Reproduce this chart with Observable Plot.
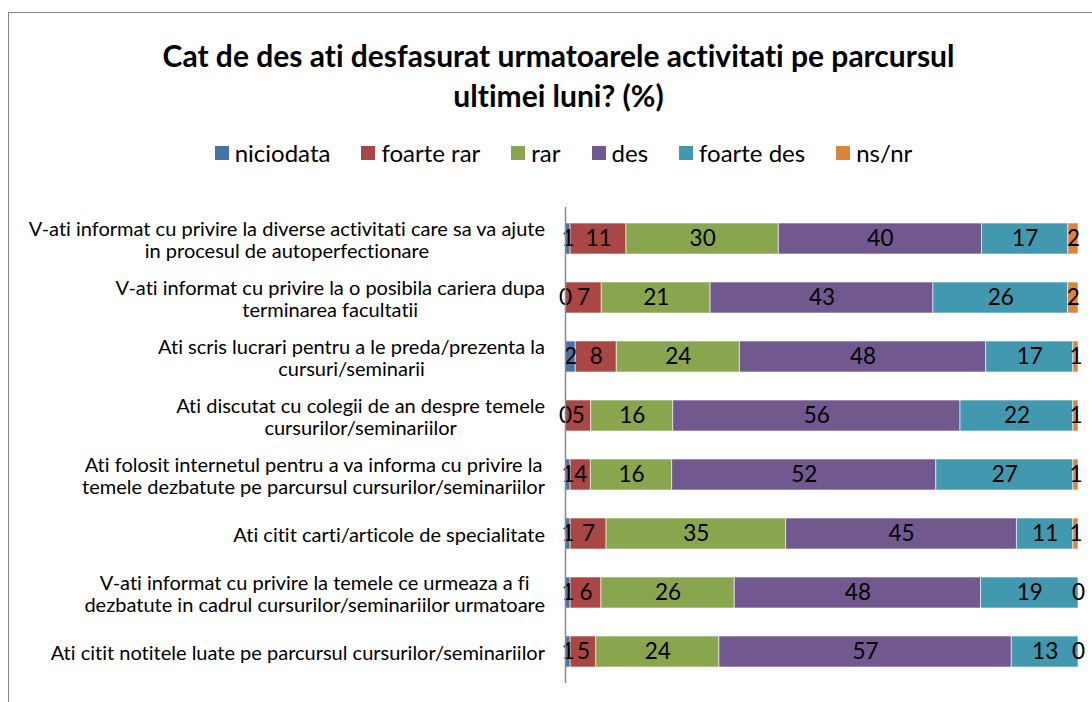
<!DOCTYPE html>
<html><head><meta charset="utf-8">
<script src="https://cdn.jsdelivr.net/npm/d3@7"></script>
<script src="https://cdn.jsdelivr.net/npm/@observablehq/plot@0.6"></script>
<style>
html,body{margin:0;background:#fff;font-family:Lato, sans-serif;overflow:hidden;}
*{font-variant-ligatures:none;font-feature-settings:"liga" 0, "clig" 0;}
#wrap{position:relative;width:1092px;height:702px;overflow:hidden;}
#frame{position:absolute;left:8px;top:12px;width:1200px;height:800px;border:1px solid #878787;}
#title{position:absolute;left:0;width:1117px;top:35px;text-align:center;font-weight:bold;font-size:30px;line-height:40px;color:#000;}
#legend{position:absolute;left:0;width:1127px;top:139px;display:flex;justify-content:center;font-size:24px;line-height:28px;color:#000;}
#legend .item{display:flex;align-items:center;margin:0 15.5px;}
#legend .sw{width:14px;height:14px;margin-right:6px;}
#chart{position:absolute;left:0;top:0;}
.ylab{position:absolute;white-space:pre;text-align:center;font-size:20px;line-height:22.5px;color:#000;transform:translateY(-50%);}
</style></head><body>
<div id="wrap"><div id="frame"></div>
<div id="title">Cat de des ati desfasurat urmatoarele activitati pe parcursul<br>ultimei luni? (%)</div>
<div id="legend"></div>
<div id="chart"></div></div>
<script>
const categories = [
  "V-ati informat cu privire la diverse activitati care sa va ajute\nin procesul de autoperfectionare",
  "V-ati informat cu privire la o posibila cariera dupa\nterminarea facultatii",
  "Ati scris lucrari pentru a le preda/prezenta la\ncursuri/seminarii",
  "Ati discutat cu colegii de an despre temele\ncursurilor/seminariilor",
  "Ati folosit internetul pentru a va informa cu privire la\ntemele dezbatute pe parcursul cursurilor/seminariilor",
  "Ati citit carti/articole de specialitate",
  "V-ati informat cu privire la temele ce urmeaza a fi\ndezbatute in cadrul cursurilor/seminariilor urmatoare",
  "Ati citit notitele luate pe parcursul cursurilor/seminariilor"
];
const series = ["niciodata", "foarte rar", "rar", "des", "foarte des", "ns/nr"];
const niciodata = [1, 0, 2, 0, 1, 1, 1, 1];
const foarteRar = [11, 7, 8, 5, 4, 7, 6, 5];
const rar       = [30, 21, 24, 16, 16, 35, 26, 24];
const des       = [40, 43, 48, 56, 52, 45, 48, 57];
const foarteDes = [17, 26, 17, 22, 27, 11, 19, 13];
const nsnr      = [2, 2, 1, 1, 1, 1, 0, 0];
const colors = ["#4572A7", "#AA4643", "#89A54E", "#71588F", "#4198AF", "#DB843D"];

const seriesValues = [niciodata, foarteRar, rar, des, foarteDes, nsnr];
const rows = [];
categories.forEach((cat, i) => {
  series.forEach((s, j) => rows.push({cat, series: s, value: seriesValues[j][i]}));
});

// legend
const leg = document.getElementById("legend");
series.forEach((s, j) => {
  const it = document.createElement("div"); it.className = "item";
  const sw = document.createElement("div"); sw.className = "sw"; sw.style.background = colors[j];
  const t = document.createElement("span"); t.textContent = s;
  it.appendChild(sw); it.appendChild(t); leg.appendChild(it);
});

const W = 1092;
const chart = Plot.plot({
  width: W, height: 702,
  marginTop: 207, marginBottom: 19, marginLeft: 565, marginRight: 14,
  style: {fontFamily: "Lato, sans-serif", background: "transparent", color: "#000"},
  x: {domain: [0, 1], axis: null},
  y: {domain: categories, axis: null, paddingInner: 0.48, paddingOuter: 0.24},
  color: {domain: series, range: colors},
  marks: [
    Plot.barX(rows, Plot.stackX({offset: "normalize"}, {x: "value", y: "cat", fill: "series", stroke: "white", strokeOpacity: 0.6, strokeWidth: 1})),
    Plot.text(rows, Plot.stackX({offset: "normalize"}, {x: "value", y: "cat", text: d => String(d.value), fontSize: 22.5, fill: "#000"})),
    Plot.ruleX([0], {stroke: "#8a8a8a", strokeWidth: 1.5})
  ]
});
const host = document.getElementById("chart");
host.appendChild(chart);

// y-axis category labels: placed with the chart's own scales; each block centred, right edge at axis - 20
const ys = chart.scale("y"), xs = chart.scale("x");
const xAxis = xs.apply(0);
categories.forEach(cat => {
  const d = document.createElement("div");
  d.className = "ylab";
  d.textContent = cat;
  d.style.right = (W - (xAxis - 20)) + "px";
  d.style.top = (ys.apply(cat) + ys.bandwidth / 2) + "px";
  document.getElementById("wrap").appendChild(d);
});
</script>
</body></html>
